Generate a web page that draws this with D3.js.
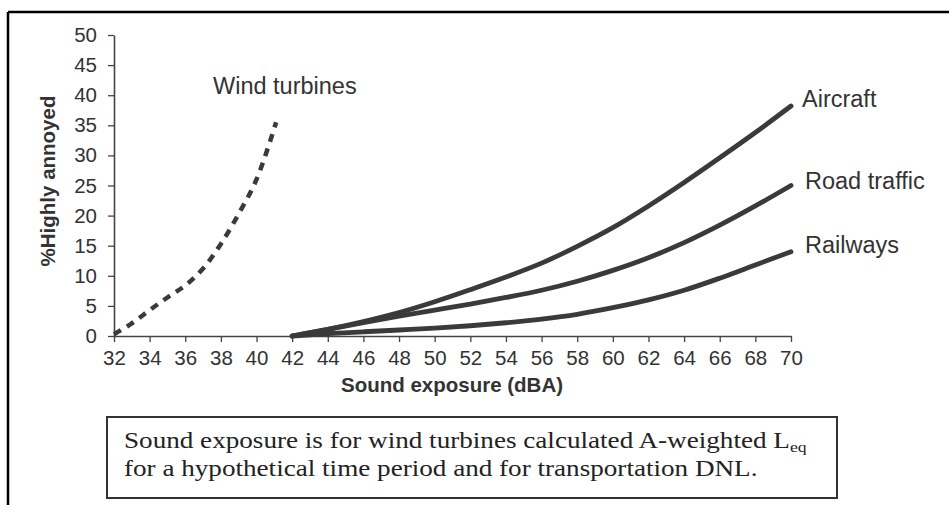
<!DOCTYPE html>
<html>
<head>
<meta charset="utf-8">
<script src="https://cdn.jsdelivr.net/npm/d3@7"></script>
<style>
  html, body { margin: 0; padding: 0; background: #fff; }
  svg { display: block; }
</style>
</head>
<body>
<svg id="chart" width="949" height="505"></svg>
<script>
// ---------- data ----------
const windX = [32, 33, 34, 35, 36, 37, 38, 39, 40, 41.1];
const windY = [0.3, 2.1, 4.3, 6.4, 8.4, 11.2, 15.3, 20.3, 26.0, 35.5];

const transportX = [42, 44, 46, 48, 50, 52, 54, 56, 58, 60, 62, 64, 66, 68, 70];
const aircraftY  = [0, 1.1, 2.4, 3.9, 5.7, 7.7, 9.8, 12.1, 14.9, 18.0, 21.6, 25.5, 29.6, 33.8, 38.2];
const roadY      = [0, 1.1, 2.2, 3.3, 4.3, 5.3, 6.4, 7.6, 9.1, 10.9, 13.0, 15.5, 18.4, 21.6, 25.0];
const railY      = [0, 0.4, 0.7, 1.0, 1.3, 1.7, 2.2, 2.8, 3.6, 4.7, 6.0, 7.6, 9.6, 11.8, 14.0];

const seriesNames = ["Wind turbines", "Aircraft", "Road traffic", "Railways"];
const xTicks = d3.range(32, 71, 2);
const yTicks = d3.range(0, 51, 5);
const xTitle = "Sound exposure (dBA)";
const yTitle = "%Highly annoyed";
const noteLine1 = "Sound exposure is for wind turbines calculated A-weighted L";
const noteSub = "eq";
const noteLine2 = "for a hypothetical time period and for transportation DNL.";

// ---------- drawing ----------
const svg = d3.select("#chart");
const ink = "#333";

// outer frame (top + left edges visible)
svg.append("line").attr("x1", 8).attr("y1", 12).attr("x2", 949).attr("y2", 12)
  .attr("stroke", "#000").attr("stroke-width", 2.5);
svg.append("line").attr("x1", 8).attr("y1", 12).attr("x2", 8).attr("y2", 505)
  .attr("stroke", "#000").attr("stroke-width", 2.5);

const x = d3.scaleLinear().domain([32, 70]).range([114, 791]);
const y = d3.scaleLinear().domain([0, 50]).range([336, 35]);

const sansFont = "'Liberation Sans', Arial, Helvetica, sans-serif";

// axes
const xAxis = svg.append("g").attr("transform", `translate(0,${y(0)})`)
  .call(d3.axisBottom(x).tickValues(xTicks).tickSize(6).tickPadding(8).tickSizeOuter(0));
const yAxis = svg.append("g").attr("transform", `translate(${x(32)},0)`)
  .call(d3.axisLeft(y).tickValues(yTicks).tickSize(6).tickPadding(11).tickSizeOuter(0));

[xAxis, yAxis].forEach(g => {
  g.select(".domain").attr("stroke", "#444").attr("stroke-width", 1.6);
  g.selectAll(".tick line").attr("stroke", "#444").attr("stroke-width", 1.3);
  g.selectAll(".tick text").attr("fill", ink)
    .style("font-family", sansFont).style("font-size", "20.5px");
});

// axis titles
svg.append("text").attr("x", 452).attr("y", 392).attr("text-anchor", "middle")
  .style("font-family", sansFont).style("font-size", "20.5px").style("font-weight", "bold")
  .attr("fill", ink).text(xTitle);
svg.append("text").attr("transform", "translate(55,181) rotate(-90)").attr("text-anchor", "middle")
  .style("font-family", sansFont).style("font-size", "20.5px").style("font-weight", "bold")
  .attr("fill", ink).text(yTitle);

// curves
const line = d3.line().x(d => x(d[0])).y(d => y(d[1])).curve(d3.curveCatmullRom.alpha(0.5));

svg.append("path")
  .datum(d3.zip(windX, windY))
  .attr("d", line)
  .attr("fill", "none").attr("stroke", "#3a3a3a").attr("stroke-width", 4.5)
  .attr("stroke-dasharray", "8,7");

[aircraftY, roadY, railY].forEach(vals => {
  svg.append("path")
    .datum(d3.zip(transportX, vals))
    .attr("d", line)
    .attr("fill", "none").attr("stroke", "#3a3a3a").attr("stroke-width", 4.8)
    .attr("stroke-linecap", "round");
});

// series labels
const labelStyle = sel => sel.style("font-family", sansFont).style("font-size", "23.5px").attr("fill", ink);
svg.append("text").attr("x", 213).attr("y", 94).text(seriesNames[0]).call(labelStyle);
svg.append("text").attr("x", 802).attr("y", 107).text(seriesNames[1]).call(labelStyle);
svg.append("text").attr("x", 805).attr("y", 189).text(seriesNames[2]).call(labelStyle);
svg.append("text").attr("x", 805).attr("y", 253).text(seriesNames[3]).call(labelStyle);

// note box
svg.append("rect").attr("x", 107).attr("y", 417).attr("width", 730).attr("height", 81)
  .attr("fill", "none").attr("stroke", "#333").attr("stroke-width", 2);
const serif = "'Liberation Serif', 'Times New Roman', Times, serif";
const note = svg.append("g").attr("transform", "translate(124,0) scale(1.18,1)");
const t1 = note.append("text").attr("x", 0).attr("y", 448)
  .style("font-family", serif).style("font-size", "23px").attr("fill", "#222");
t1.append("tspan").text(noteLine1);
t1.append("tspan").attr("dy", 4).style("font-size", "15px").text(noteSub);
note.append("text").attr("x", 0).attr("y", 476)
  .style("font-family", serif).style("font-size", "23px").attr("fill", "#222").text(noteLine2);
</script>
</body>
</html>
